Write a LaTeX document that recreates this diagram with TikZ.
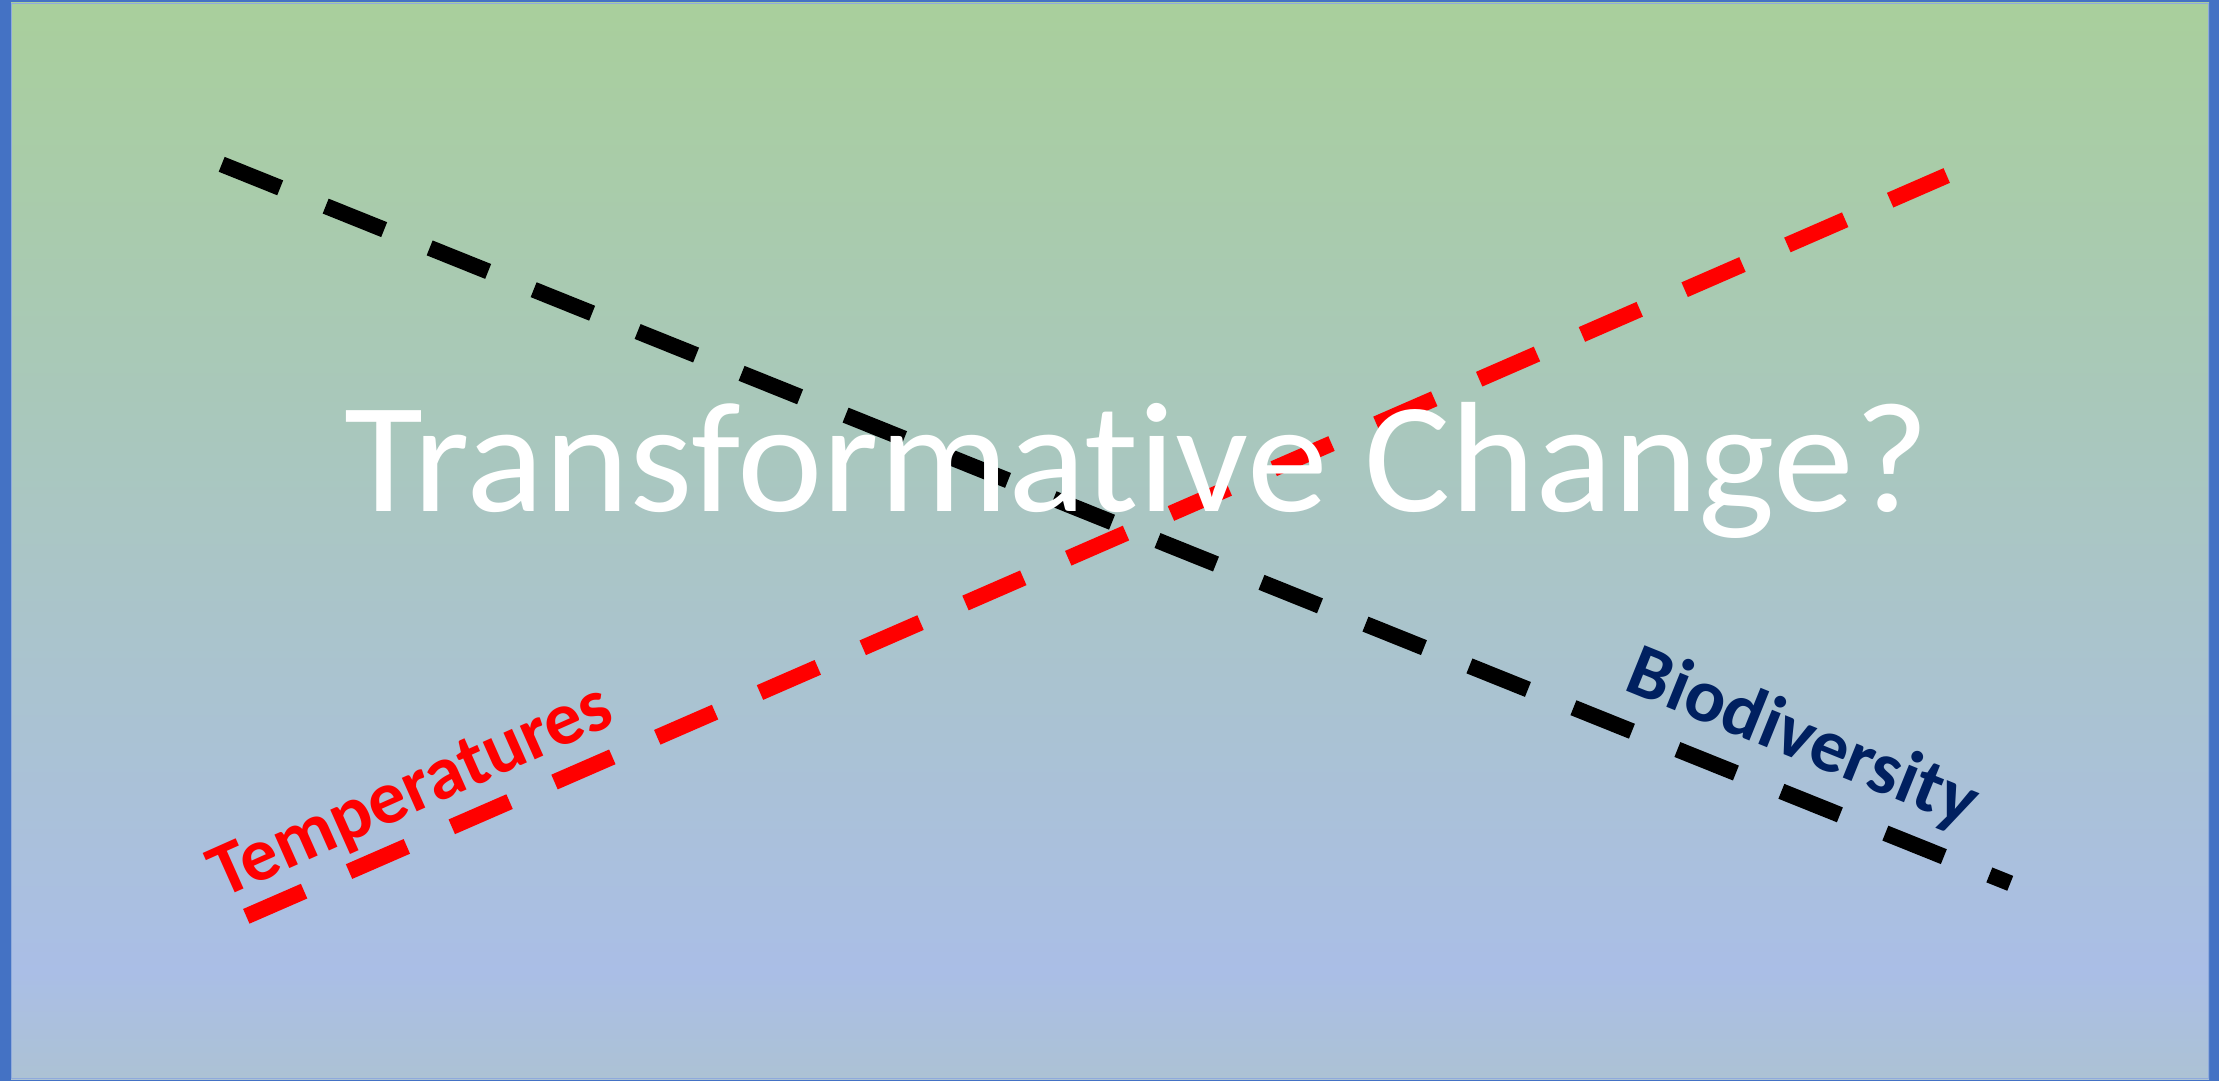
\documentclass[tikz,border=0pt]{standalone}
\usepackage{fontspec}
\setmainfont[Ligatures={NoCommon}]{Carlito}
\definecolor{bgGreen}{RGB}{169,207,156}
\definecolor{bgBlue}{RGB}{170,190,230}
\definecolor{bgBottom}{RGB}{172,194,212}
\definecolor{frameBlue}{RGB}{68,114,196}
\definecolor{frameLight}{RGB}{143,170,220}
\definecolor{navyText}{RGB}{0,32,96}
\pgfdeclareverticalshading{bgshade}{100bp}{color(0bp)=(bgBottom); color(25bp)=(bgBottom); color(30bp)=(bgBlue); color(75bp)=(bgGreen); color(100bp)=(bgGreen)}
\tikzset{
  dashline/.style={line width=1.6mm, dash pattern=on 6.3mm off 4.9mm, line cap=butt},
  titletext/.style={text=white, inner sep=0pt, font=\fontsize{44.7pt}{50pt}\selectfont},
  labeltext/.style={inner sep=0pt, font=\fontsize{21.5pt}{25pt}\selectfont\bfseries},
}
\begin{document}
\begin{tikzpicture}[x=0.01cm,y=-0.01cm]
\useasboundingbox (0,0) rectangle (2219,1081);
\fill[frameBlue] (0,0) rectangle (2219,1081);
\shade[shading=bgshade] (11,2.5) rectangle (2209,1079);
\draw[frameLight, line width=0.1mm] (11.5,3) rectangle (2208.5,1078.5);
\coordinate (bStart) at (221.7,164.3);
\coordinate (bEnd) at (2010.2,883.3);
\coordinate (rStart) at (246.3,916.3);
\coordinate (rEnd) at (1946.7,175.5);
\draw[dashline, black] (bStart) -- (bEnd);
\draw[dashline, red] (rStart) -- (rEnd);
\node[titletext, anchor=base] (title) at (1137,511) {\scalebox{1.03}[1]{Transformative Change?}};
\node[labeltext, text=red, rotate=24, anchor=base west] (temp) at (222,899) {Temperatures};
\node[labeltext, text=navyText, rotate=-22, anchor=base west] (bio) at (1622,689) {Biodiversity};
\end{tikzpicture}
\end{document}
